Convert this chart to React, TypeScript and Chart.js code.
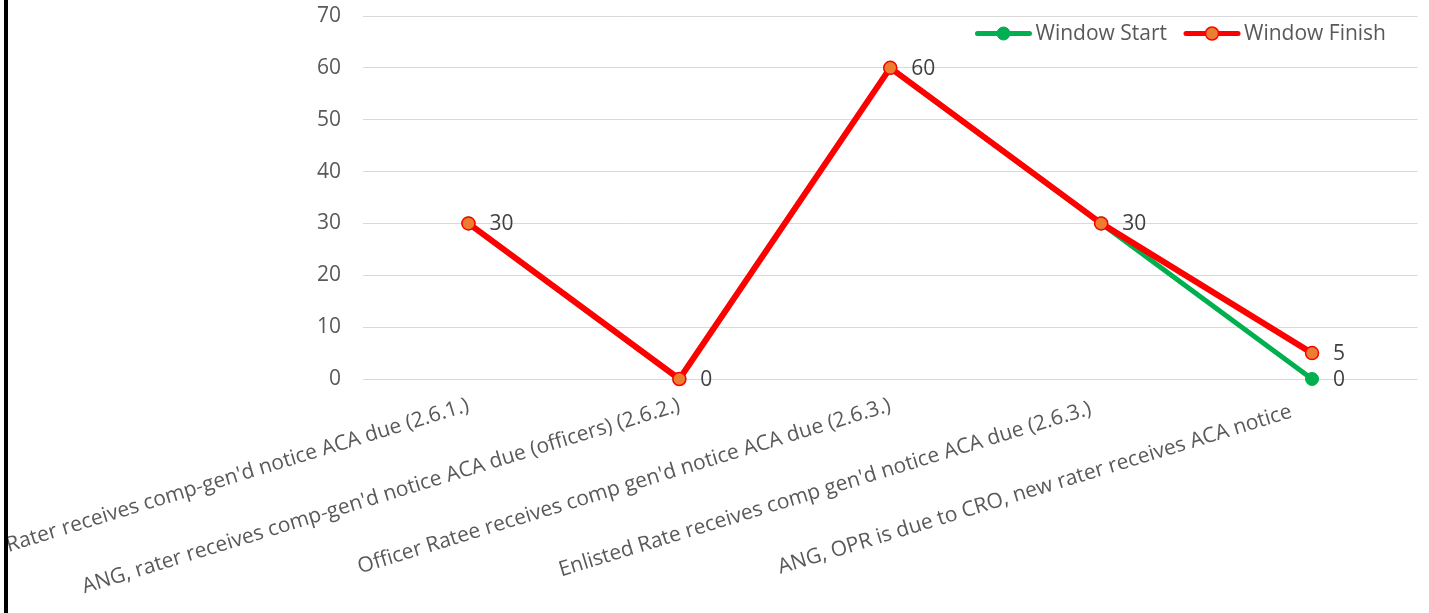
import React, { useEffect, useRef } from "react";
import { Chart, registerables } from "chart.js";

Chart.register(...registerables);

// Category labels (the last two carry trailing padding as in the source sheet)
const categories = [
  "Rater receives comp-gen'd notice ACA due (2.6.1.)",
  "ANG, rater receives comp-gen'd notice ACA due (officers) (2.6.2.)",
  "Officer Ratee receives comp gen'd notice ACA due (2.6.3.)",
  "Enlisted Rate receives comp gen'd notice ACA due (2.6.3.)  ",
  "ANG, OPR is due to CRO, new rater receives ACA notice    ",
];

const windowStart = [30, 0, 60, 30, 0];
const windowFinish = [30, 0, 60, 30, 5];

const yMin = 0;
const yMax = 70;
const yStep = 10;

const FONT = '"Open Sans", "Noto Sans", sans-serif';

// Value labels to the right of each point; a label is skipped when a
// series listed later shows the same value at that category.
const valueLabels = {
  id: "valueLabels",
  afterDatasetsDraw(chart: any) {
    const { ctx } = chart;
    ctx.save();
    ctx.font = `21px ${FONT}`;
    ctx.fillStyle = "#404040";
    ctx.textAlign = "left";
    ctx.textBaseline = "middle";
    chart.data.datasets.forEach((ds: any, di: number) => {
      const meta = chart.getDatasetMeta(di);
      meta.data.forEach((pt: any, i: number) => {
        const v = ds.data[i];
        const covered = chart.data.datasets.some(
          (o: any, oi: number) => oi > di && o.data[i] === v
        );
        if (covered) return;
        ctx.fillText(String(v), pt.x + 21, pt.y + 1);
      });
    });
    ctx.restore();
  },
};

// Legend drawn inside the plot area, top right, with line + marker swatches
const legendBox = {
  id: "legendBox",
  afterDraw(chart: any) {
    const { ctx, chartArea } = chart;
    ctx.save();
    ctx.font = `21px ${FONT}`;
    ctx.textBaseline = "middle";
    ctx.textAlign = "left";
    const y = chartArea.top + 17.5;
    const swatch = 56;
    const textGap = 4;
    const itemGap = 17;
    const items = chart.data.datasets.map((ds: any) => ({
      ds,
      w: ctx.measureText(ds.label).width,
    }));
    const total =
      items.reduce((s: number, it: any) => s + swatch + textGap + it.w, 0) +
      itemGap * (items.length - 1);
    let x = chartArea.right - 31.5 - total;
    items.forEach(({ ds, w }: any) => {
      ctx.strokeStyle = ds.borderColor;
      ctx.lineWidth = 5;
      ctx.lineCap = "round";
      ctx.beginPath();
      ctx.moveTo(x + 2, y);
      ctx.lineTo(x + swatch - 2, y);
      ctx.stroke();
      ctx.beginPath();
      ctx.arc(x + swatch / 2, y, ds.pointRadius, 0, Math.PI * 2);
      ctx.fillStyle = ds.pointBackgroundColor;
      ctx.fill();
      ctx.lineWidth = ds.pointBorderWidth;
      ctx.strokeStyle = ds.pointBorderColor;
      ctx.stroke();
      ctx.fillStyle = "#595959";
      ctx.fillText(ds.label, x + swatch + textGap, y + 1);
      x += swatch + textGap + w + itemGap;
    });
    ctx.restore();
  },
};

export default function App() {
  const ref = useRef<HTMLCanvasElement>(null);

  useEffect(() => {
    if (!ref.current) return;
    const chart = new Chart(ref.current, {
      type: "line",
      data: {
        labels: categories,
        datasets: [
          {
            label: "Window Start",
            data: windowStart,
            order: 1,
            clip: false,
            borderColor: "#00B050",
            backgroundColor: "#00B050",
            borderWidth: 5,
            pointRadius: 6.5,
            pointBackgroundColor: "#00B050",
            pointBorderColor: "#00B050",
            pointBorderWidth: 1,
            borderJoinStyle: "round",
            tension: 0,
          },
          {
            label: "Window Finish",
            data: windowFinish,
            order: 0,
            clip: false,
            borderColor: "#FF0000",
            backgroundColor: "#ED7D31",
            borderWidth: 6,
            pointRadius: 6.5,
            pointBackgroundColor: "#ED7D31",
            pointBorderColor: "#FF0000",
            pointBorderWidth: 1.5,
            borderJoinStyle: "round",
            tension: 0,
          },
        ],
      },
      options: {
        responsive: false,
        animation: false,
        layout: { padding: { top: 16, right: 11.5, bottom: 0, left: 0 } },
        plugins: {
          legend: { display: false },
          tooltip: { enabled: false },
        },
        scales: {
          x: {
            offset: true,
            grid: { display: false, drawTicks: false },
            border: { display: false },
            ticks: {
              autoSkip: false,
              minRotation: 17,
              maxRotation: 17,
              padding: 14,
              color: "#595959",
              font: { family: FONT, size: 21 },
            },
            afterFit: (s: any) => {
              s.height = 234;
              s.paddingLeft = 0;
              s.paddingRight = 0;
            },
          },
          y: {
            min: yMin,
            max: yMax,
            ticks: {
              stepSize: yStep,
              padding: 22,
              color: "#595959",
              font: { family: FONT, size: 21 },
            },
            grid: { color: "#D9D9D9", lineWidth: 1, drawTicks: false },
            border: { display: false },
            afterFit: (s: any) => {
              s.width = 355;
              s.paddingTop = 0;
              s.paddingBottom = 0;
            },
          },
        },
      },
      plugins: [valueLabels, legendBox],
    } as any);
    return () => chart.destroy();
  }, []);

  return (
    <div
      style={{
        position: "fixed",
        left: 0,
        top: 0,
        width: 1429,
        height: 613,
        overflow: "hidden",
        background: "#ffffff",
      }}
    >
      <div
        style={{
          position: "absolute",
          left: 4,
          top: 0,
          width: 4,
          height: 613,
          background: "#000000",
        }}
      />
      <canvas
        ref={ref}
        width={1421}
        height={613}
        style={{ position: "absolute", left: 8, top: 0, display: "block" }}
      />
    </div>
  );
}
